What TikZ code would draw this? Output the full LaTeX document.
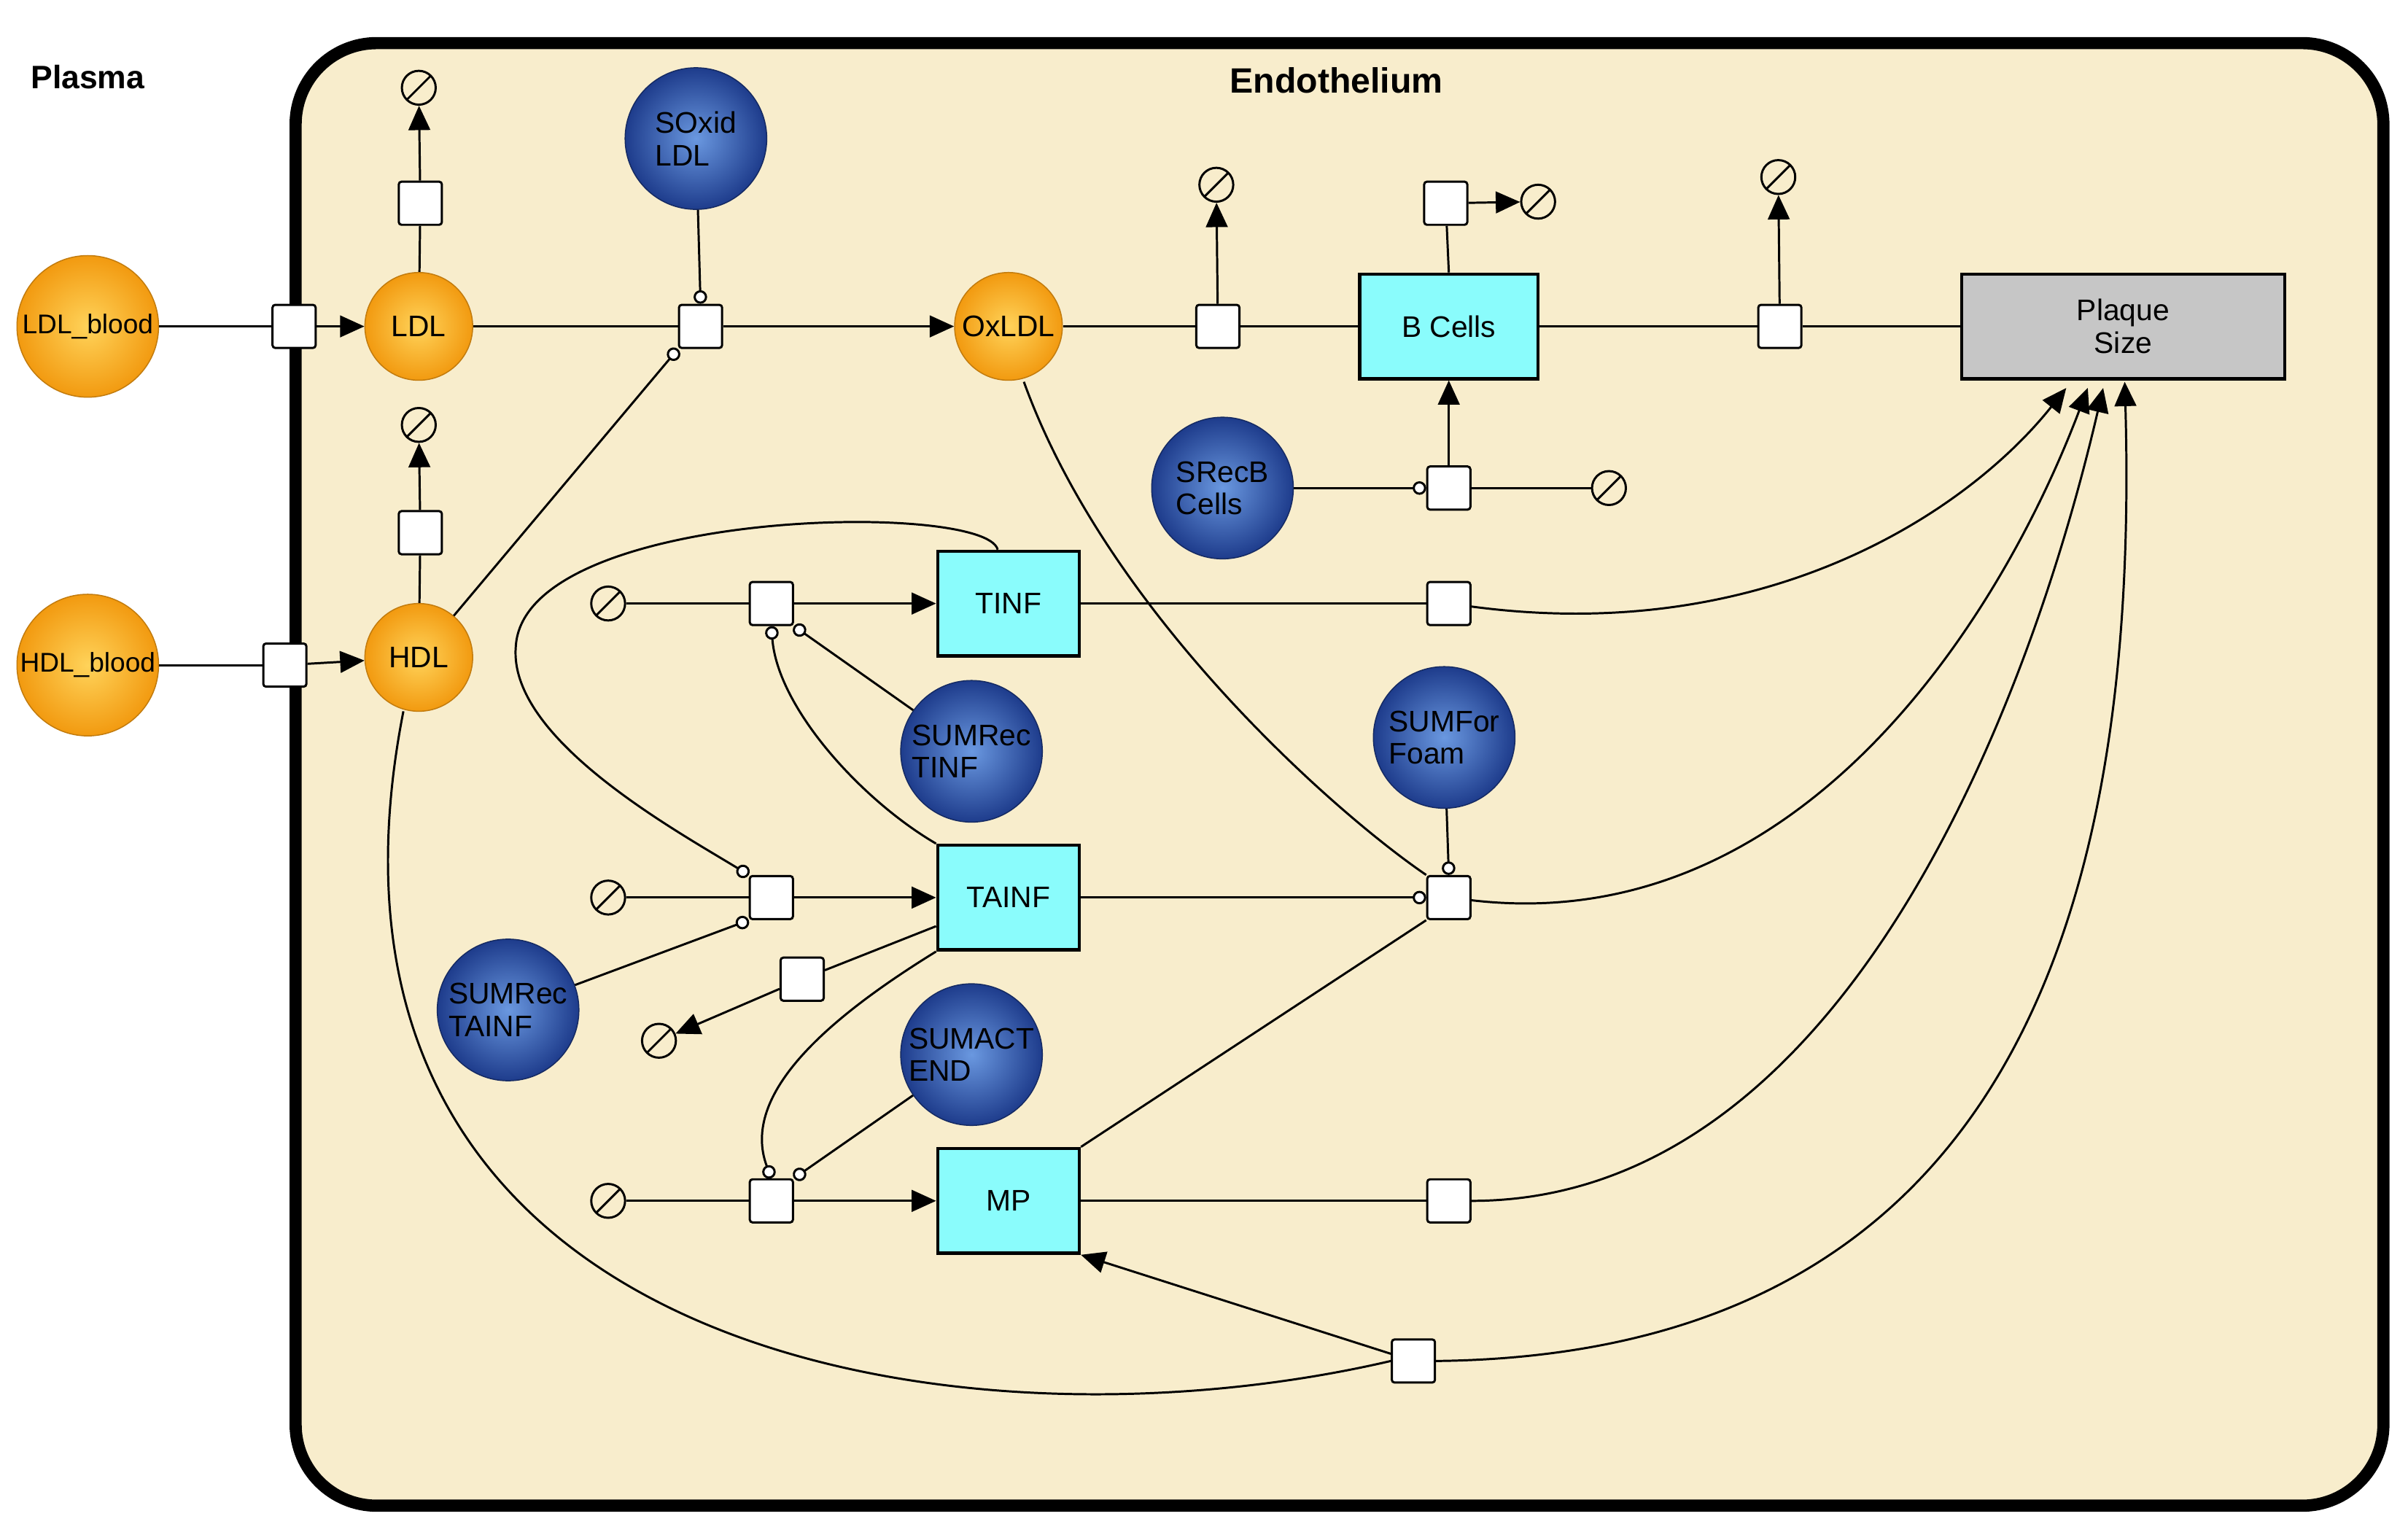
\documentclass[tikz,border=0pt]{standalone}
\usepackage{fontspec}
\setmainfont{Liberation Sans}
\usetikzlibrary{arrows.meta,shapes.geometric,calc}
\definecolor{orin}{HTML}{FFD35A}
\definecolor{orout}{HTML}{F29A10}
\definecolor{blin}{HTML}{6A98E0}
\definecolor{blout}{HTML}{1E3C8C}
\definecolor{cellc}{HTML}{8AFCFC}
\definecolor{endo}{HTML}{F8EDCC}
\tikzset{
  species/.style={circle, draw=orout!80!black, inner color=orin, outer color=orout, minimum size=1.4cm, inner sep=0pt, font=\fontsize{11}{12}\selectfont},
  blood/.style={species, minimum size=1.84cm, font=\fontsize{10}{12}\selectfont},
  param/.style={circle, draw=blout!70!black, inner color=blin, outer color=blout, minimum size=1.84cm, inner sep=0pt, align=left, font=\fontsize{11}{12}\selectfont},
  cell/.style={draw, very thick, fill=cellc, minimum width=1.84cm, minimum height=1.36cm, font=\fontsize{11}{12}\selectfont},
  reac/.style={draw, thick, fill=white, rounded corners=1pt, minimum size=0.56cm, inner sep=0pt},
  sink/.style={circle, draw, thick, minimum size=0.44cm, inner sep=0pt,
    path picture={\draw[thick] ([shift={(-3pt,-3pt)}]path picture bounding box.south west) -- ([shift={(3pt,3pt)}]path picture bounding box.north east);}},
  arr/.style={thick, -{Triangle[length=9pt,width=8pt]}},
  mod/.style={thick, -{Circle[open,fill=white,length=5pt]}},
  ln/.style={thick}
}
\begin{document}
\begin{tikzpicture}[x=0.02cm, y=-0.02cm]
    \useasboundingbox (0,0) rectangle (1564,997);

    % compartment
    \draw[line width=4.5pt, fill=endo, rounded corners=30pt] (192,28) rectangle (1548,978);
    \node[font=\bfseries\fontsize{12}{14}\selectfont] at (57,50) {Plasma};
    \node[font=\bfseries\fontsize{13}{15}\selectfont] at (868,52) {Endothelium};

    % species
    \node[blood] (ldlblood) at (57,212) {LDL\_blood};
    \node[blood] (hdlblood) at (57,432) {HDL\_blood};
    \node[species] (ldl) at (272,212) {LDL};
    \node[species] (hdl) at (272,427) {HDL};
    \node[species] (oxldl) at (655,212) {OxLDL};

    % parameters
    \node[param] (soxid) at (452,90) {SOxid\\LDL};
    \node[param] (srecb) at (794,317) {SRecB\\Cells};
    \node[param] (sumrectinf) at (631,488) {SUMRec\\TINF};
    \node[param] (sumforfoam) at (938,479) {SUMFor\\Foam};
    \node[param] (sumrectainf) at (330,656) {SUMRec\\TAINF};
    \node[param] (sumactend) at (631,685) {SUMACT\\END};

    % cells
    \node[cell] (tinf) at (655,392) {TINF};
    \node[cell] (tainf) at (655,583) {TAINF};
    \node[cell] (mp) at (655,780) {MP};
    \node[cell, minimum width=2.32cm] (bcells) at (941,212) {B Cells};
    \node[draw, very thick, fill=gray!45, minimum width=4.2cm, minimum height=1.36cm, align=center, font=\fontsize{11}{12}\selectfont] (plaque) at (1379,212) {Plaque\\Size};

    % reactions
    \node[reac] (rLin) at (191,212) {};
    \node[reac] (rHin) at (185,432) {};
    \node[reac] (rLdeg) at (273,132) {};
    \node[reac] (rHdeg) at (273,346) {};
    \node[reac] (rOx) at (455,212) {};
    \node[reac] (rOxdeg) at (791,212) {};
    \node[reac] (rBdeg) at (939,132) {};
    \node[reac] (rBrec) at (941,317) {};
    \node[reac] (rBdeg2) at (1156,212) {};
    \node[reac] (rTin) at (501,392) {};
    \node[reac] (rTout) at (941,392) {};
    \node[reac] (rAin) at (501,583) {};
    \node[reac] (rFoam) at (941,583) {};
    \node[reac] (rAdeg) at (521,636) {};
    \node[reac] (rMin) at (501,780) {};
    \node[reac] (rMout) at (941,780) {};
    \node[reac] (rH) at (918,884) {};

    % sinks
    \node[sink] (s1) at (272,57) {};
    \node[sink] (s2) at (272,276) {};
    \node[sink] (s3) at (790,120) {};
    \node[sink] (s4) at (999,131) {};
    \node[sink] (s5) at (1045,317) {};
    \node[sink] (s6) at (1155,115) {};
    \node[sink] (s7) at (395,392) {};
    \node[sink] (s8) at (395,583) {};
    \node[sink] (s9) at (428,676) {};
    \node[sink] (s10) at (395,780) {};

    % plaque entry points
    \coordinate (p1) at (1342,252);
    \coordinate (p2) at (1356,252);
    \coordinate (p3) at (1366,252);
    \coordinate (p4) at (1380,248);

    % LDL / HDL
    \draw[ln] (ldlblood) -- (rLin);
    \draw[arr] (rLin) -- (ldl);
    \draw[ln] (hdlblood) -- (rHin);
    \draw[arr] (rHin) -- (hdl);
    \draw[ln] (ldl) -- (rLdeg);
    \draw[arr] (rLdeg) -- (s1);
    \draw[ln] (hdl) -- (rHdeg);
    \draw[arr] (rHdeg) -- (s2);
    \draw[ln] (ldl) -- (rOx);
    \draw[arr] (rOx) -- (oxldl);
    \draw[mod] (soxid) -- (rOx.north);
    \draw[mod] (hdl) -- (rOx.south west);

    % OxLDL and B cells
    \draw[ln] (oxldl) -- (rOxdeg);
    \draw[arr] (rOxdeg) -- (s3);
    \draw[ln] (rOxdeg) -- (bcells);
    \draw[ln] (bcells.north) -- (rBdeg);
    \draw[arr] (rBdeg) -- (s4);
    \draw[mod] (srecb) -- (rBrec.west);
    \draw[arr] (rBrec) -- (bcells);
    \draw[ln] (rBrec) -- (s5);
    \draw[ln] (bcells) -- (rBdeg2);
    \draw[arr] (rBdeg2) -- (s6);
    \draw[ln] (rBdeg2) -- (plaque);

    % TINF
    \draw[ln] (s7) -- (rTin);
    \draw[arr] (rTin) -- (tinf);
    \draw[mod] (sumrectinf) -- (rTin.south east);
    \draw[mod] (tainf.north west) .. controls (560,520) and (505,460) .. (rTin.south);
    \draw[ln] (tinf) -- (rTout);
    \draw[arr] (rTout) .. controls (1150,420) and (1280,330) .. (p1);

    % TAINF
    \draw[ln] (s8) -- (rAin);
    \draw[arr] (rAin) -- (tainf);
    \draw[mod] (648,357) .. controls (640,325) and (340,330) .. (335,420) .. controls (330,480) and (440,540) .. (rAin.north west);
    \draw[mod] (sumrectainf) -- (rAin.south west);
    \draw[ln] (tainf) -- (rAdeg);
    \draw[arr] (rAdeg) -- (s9);
    \draw[mod] (tainf) -- (rFoam.west);
    \draw[mod] (sumforfoam) -- (rFoam.north);
    \draw[ln] (665,248) .. controls (720,400) and (870,530) .. (rFoam.north west);
    \draw[ln] (mp.north east) -- (rFoam.south west);
    \draw[arr] (rFoam) .. controls (1170,610) and (1300,400) .. (p2);

    % MP
    \draw[ln] (s10) -- (rMin);
    \draw[arr] (rMin) -- (mp);
    \draw[mod] (tainf.south west) .. controls (540,660) and (480,710) .. (rMin.north);
    \draw[mod] (sumactend) -- (rMin.north east);
    \draw[ln] (mp) -- (rMout);
    \draw[arr] (rMout) .. controls (1200,780) and (1320,450) .. (p3);

    % HDL removal
    \draw[ln] (262,462) .. controls (180,880) and (620,950) .. (rH.west);
    \draw[arr] (rH) -- (mp.south east);
    \draw[arr] (rH.east) .. controls (1300,880) and (1390,600) .. (p4);
\end{tikzpicture}
\end{document}
